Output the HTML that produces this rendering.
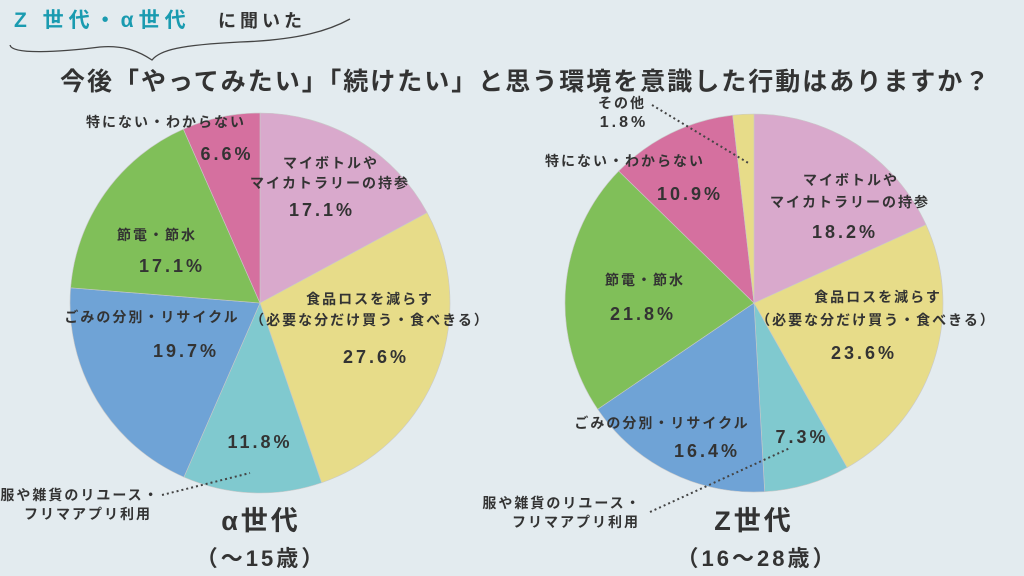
<!DOCTYPE html>
<html><head><meta charset="utf-8"><style>
body{margin:0;width:1024px;height:576px;background:#e3ebef;overflow:hidden;font-family:"Liberation Sans","Noto Sans CJK JP",sans-serif;}
svg{position:absolute;left:0;top:0}
text{font-family:"Liberation Sans","Noto Sans CJK JP",sans-serif;fill:#333;font-weight:bold}
</style></head><body>
<svg id="s" width="1024" height="576" viewBox="0 0 1024 576">
<text x="14" y="27" font-size="21" style="fill:#1a9bb0" letter-spacing="5">Z 世代・α世代</text>
<text x="218" y="27" font-size="18" letter-spacing="4">に聞いた</text>
<path d="M10 45 C12 55 60 52 100 47 C125 45 140 52 152 60 C160 50 180 45 240 42 C300 40 330 30 350 19" fill="none" stroke="#444" stroke-width="1.3"/>
<text x="60" y="90" font-size="25" letter-spacing="2">今後「やってみたい」「続けたい」と思う環境を意識した行動はありますか？</text>
<g id="p1"></g><g id="p2"></g>
<g font-size="14" text-anchor="middle" letter-spacing="2">
<text x="166" y="127">特にない・わからない</text>
<text x="227" y="160" font-size="18" letter-spacing="3">6.6%</text>
<text x="331" y="168">マイボトルや</text>
<text x="330" y="188">マイカトラリーの持参</text>
<text x="322" y="216" font-size="18" letter-spacing="3">17.1%</text>
<text x="157" y="240">節電・節水</text>
<text x="172" y="272" font-size="18" letter-spacing="3">17.1%</text>
<text x="370" y="304">食品ロスを減らす</text>
<text x="370" y="325">（必要な分だけ買う・食べきる）</text>
<text x="376" y="363" font-size="18" letter-spacing="3">27.6%</text>
<text x="152" y="322">ごみの分別・リサイクル</text>
<text x="186" y="357" font-size="18" letter-spacing="3">19.7%</text>
<text x="260" y="448" font-size="18" letter-spacing="3">11.8%</text>
<text x="80" y="500">服や雑貨のリユース・</text>
<text x="88" y="519">フリマアプリ利用</text>
<text x="622" y="108">その他</text>
<text x="624" y="127" font-size="16" letter-spacing="3">1.8%</text>
<text x="625" y="166">特にない・わからない</text>
<text x="690" y="200" font-size="18" letter-spacing="3">10.9%</text>
<text x="851" y="185">マイボトルや</text>
<text x="850" y="207">マイカトラリーの持参</text>
<text x="845" y="238" font-size="18" letter-spacing="3">18.2%</text>
<text x="645" y="285">節電・節水</text>
<text x="643" y="320" font-size="18" letter-spacing="3">21.8%</text>
<text x="878" y="302">食品ロスを減らす</text>
<text x="876" y="325">（必要な分だけ買う・食べきる）</text>
<text x="864" y="359" font-size="18" letter-spacing="3">23.6%</text>
<text x="662" y="428">ごみの分別・リサイクル</text>
<text x="707" y="457" font-size="18" letter-spacing="3">16.4%</text>
<text x="802" y="443" font-size="18" letter-spacing="3">7.3%</text>
<text x="562" y="508">服や雑貨のリユース・</text>
<text x="576" y="527">フリマアプリ利用</text>
<text x="261" y="530" font-size="27" letter-spacing="3">α世代</text>
<text x="261" y="566" font-size="22" font-weight="normal" letter-spacing="3">（～15歳）</text>
<text x="754" y="530" font-size="27" letter-spacing="3">Z世代</text>
<text x="757" y="566" font-size="22" font-weight="normal" letter-spacing="3">（16～28歳）</text>
</g>
<g stroke="#444" stroke-width="2" stroke-dasharray="2 3" fill="none">
<line x1="162" y1="495" x2="250" y2="473"/>
<line x1="650" y1="512" x2="790" y2="448"/>
<line x1="652" y1="105" x2="750" y2="164"/>
</g>
</svg>
<script>
function pie(id,cx,cy,r,vals,cols){
 var g=document.getElementById(id),a=0,tot=vals.reduce((x,y)=>x+y,0),h='';
 vals.forEach(function(v,i){
  var a2=a+v/tot*2*Math.PI;
  var x1=cx+r*Math.sin(a),y1=cy-r*Math.cos(a),x2=cx+r*Math.sin(a2),y2=cy-r*Math.cos(a2);
  h+='<path d="M'+cx+' '+cy+' L'+x1+' '+y1+' A'+r+' '+r+' 0 '+((a2-a)>Math.PI?1:0)+' 1 '+x2+' '+y2+' Z" fill="'+cols[i]+'" stroke="#c9c9c9" stroke-width="0.6"/>';
  a=a2;});
 g.innerHTML=h;
}
pie('p1',260,303,190,[17.1,27.6,11.8,19.7,17.1,6.6],['#d9a9cc','#e7dc89','#80c9cf','#6fa3d6','#80bf59','#d5709f']);
pie('p2',754,303,189,[18.2,23.6,7.3,16.4,21.8,10.9,1.8],['#d9a9cc','#e7dc89','#80c9cf','#6fa3d6','#80bf59','#d5709f','#e7dc89']);
</script>
</body></html>
